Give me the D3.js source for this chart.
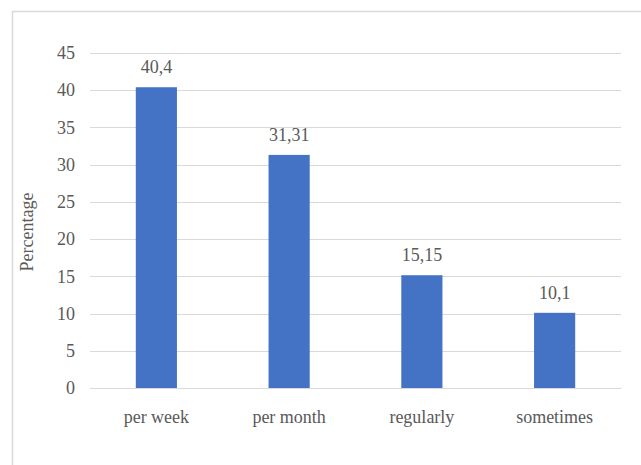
<!DOCTYPE html>
<html>
<head>
<meta charset="utf-8">
<script src="https://cdn.jsdelivr.net/npm/d3@7"></script>
<style>
  body { margin: 0; background: #fff; }
  svg { display: block; }
  svg text { font-family: "Liberation Serif", "Times New Roman", "DejaVu Serif", serif !important; fill: #595959; }
</style>
</head>
<body>
<svg width="641" height="465"></svg>
<script>
var categories = ["per week", "per month", "regularly", "sometimes"];
var values = [40.4, 31.31, 15.15, 10.1];
var valueLabels = ["40,4", "31,31", "15,15", "10,1"];
var yTicks = [0, 5, 10, 15, 20, 25, 30, 35, 40, 45];

var margin = { top: 53, right: 20, bottom: 77, left: 90 },
    width = 621 - margin.left,
    height = 388 - margin.top;

var root = d3.select("svg");

// chart frame
root.append("rect")
    .attr("x", 12.5).attr("y", 11.5)
    .attr("width", 660).attr("height", 480)
    .attr("fill", "none")
    .attr("stroke", "#d9d9d9")
    .attr("stroke-width", 1.5);

var svg = root.append("g")
    .attr("transform", "translate(" + margin.left + "," + margin.top + ")");

var x = d3.scaleBand()
    .domain(categories)
    .range([0, width])
    .paddingInner(0.69)
    .paddingOuter(0.345);

var y = d3.scaleLinear()
    .domain([0, 45])
    .range([height, 0]);

// gridlines
svg.append("g")
    .selectAll("line")
    .data(yTicks)
    .enter().append("line")
    .attr("x1", 0).attr("x2", width)
    .attr("y1", function (d) { return Math.round(y(d)) + 0.5; })
    .attr("y2", function (d) { return Math.round(y(d)) + 0.5; })
    .attr("stroke", "#d9d9d9")
    .attr("stroke-width", 1);

// y axis labels
var yAxis = svg.append("g")
    .call(d3.axisLeft(y).tickValues(yTicks).tickSize(0).tickPadding(15));
yAxis.attr("font-family", null);
yAxis.select(".domain").remove();
yAxis.selectAll("text")
    .style("font-size", "18px")
    .attr("fill", "#595959");

// bars
svg.selectAll(".bar")
    .data(values)
    .enter().append("rect")
    .attr("class", "bar")
    .attr("x", function (d, i) { return x(categories[i]); })
    .attr("width", x.bandwidth())
    .attr("y", function (d) { return y(d); })
    .attr("height", function (d) { return height - y(d); })
    .attr("fill", "#4472C4");

// value labels
svg.selectAll(".val")
    .data(values)
    .enter().append("text")
    .attr("class", "val")
    .attr("x", function (d, i) { return x(categories[i]) + x.bandwidth() / 2; })
    .attr("y", function (d) { return y(d) - 14; })
    .attr("text-anchor", "middle")
    .style("font-size", "18px")
    .text(function (d, i) { return valueLabels[i]; });

// x axis
var xAxis = svg.append("g")
    .attr("transform", "translate(0," + height + ")")
    .call(d3.axisBottom(x).tickSize(0).tickPadding(22));
xAxis.attr("font-family", null);
xAxis.select(".domain").attr("stroke", "#d9d9d9");
xAxis.selectAll("text")
    .style("font-size", "18px")
    .attr("fill", "#595959");

// y axis title
root.append("text")
    .attr("transform", "translate(33,232)rotate(-90)")
    .attr("text-anchor", "middle")
    .style("font-size", "18px")
    .text("Percentage");
</script>
</body>
</html>
